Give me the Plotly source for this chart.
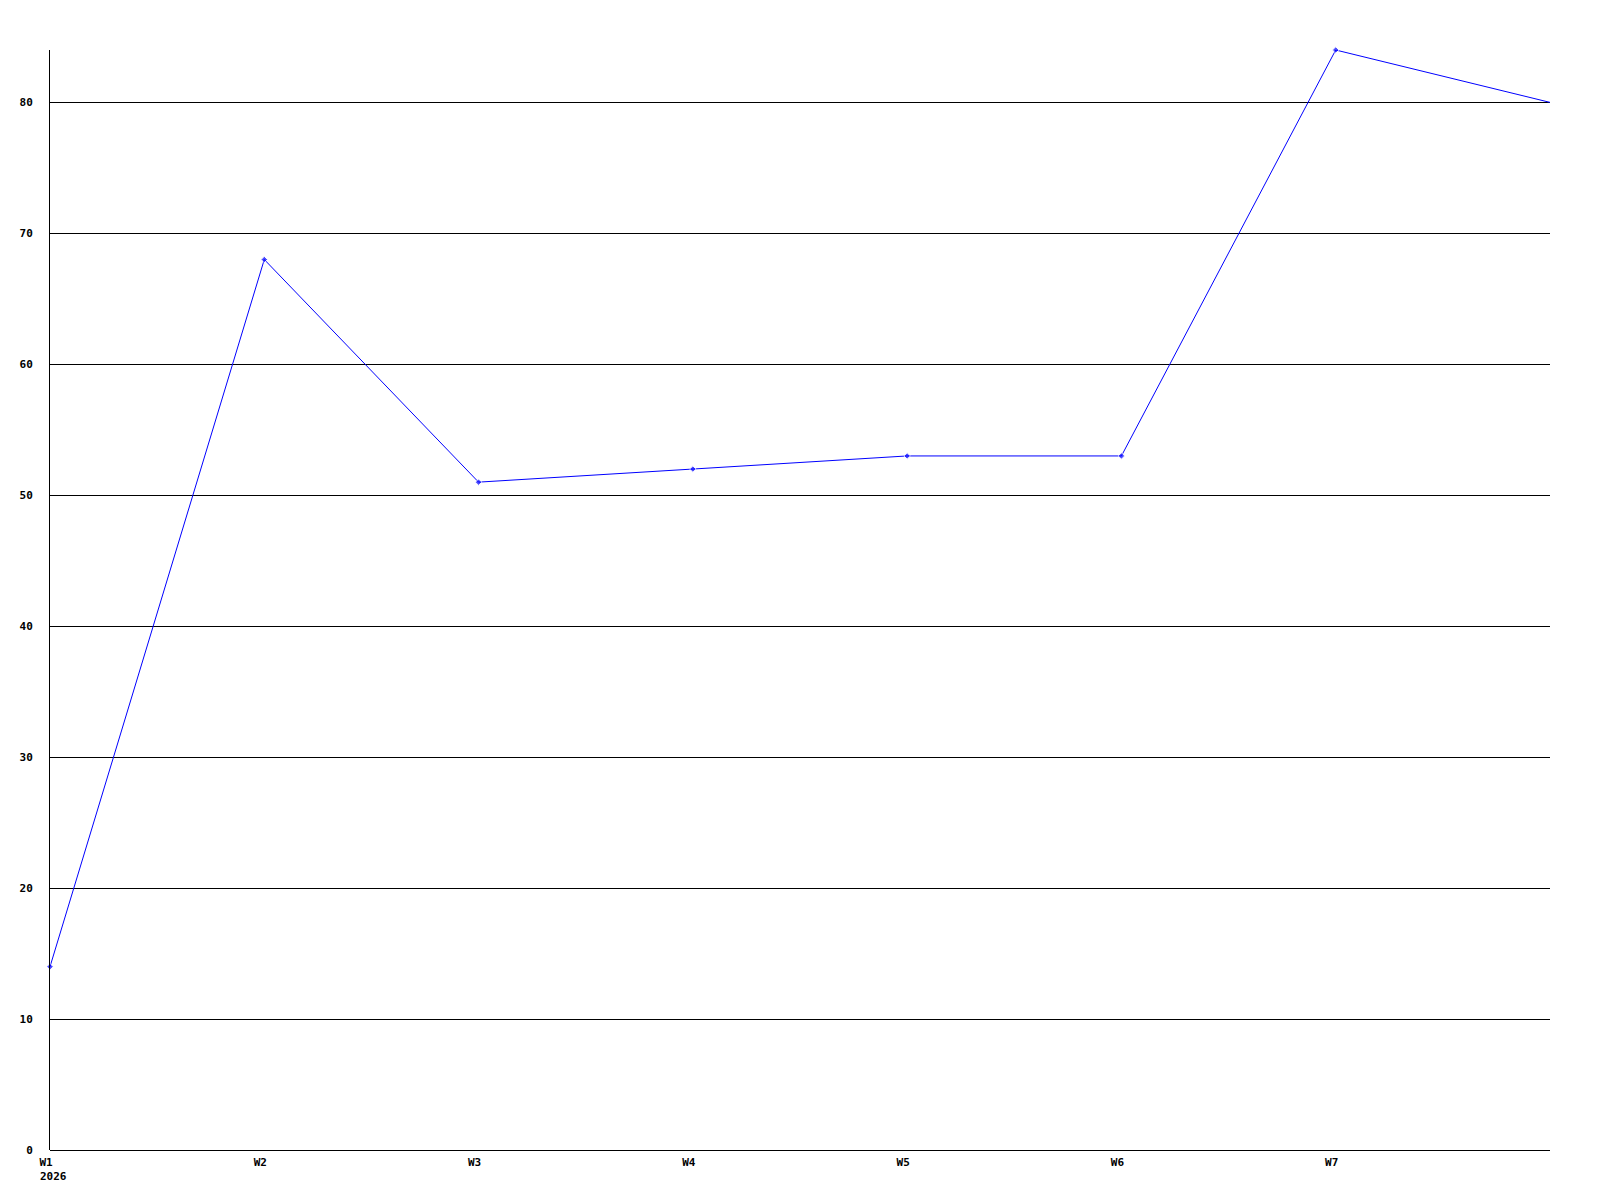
import plotly.graph_objs as go

weeks = ["W1", "W2", "W3", "W4", "W5", "W6", "W7", "W8"]
values = [14, 68, 51, 52, 53, 53, 84, 80]
tick_labels = ["W1", "W2", "W3", "W4", "W5", "W6", "W7"]
year_label = "2026"
y_ticks = [0, 10, 20, 30, 40, 50, 60, 70, 80]

tick_font = dict(family="DejaVu Sans Mono", size=11, color="black", weight="bold")

positions = list(range(len(weeks)))
marker_sizes = [5] * (len(weeks) - 1) + [0]

fig = go.Figure(data=[
    go.Scatter(x=positions, y=values, mode="lines+markers",
               line=dict(color="#0000ff", width=1),
               marker=dict(color="#0000ff", size=marker_sizes, symbol="diamond"),
               cliponaxis=False, showlegend=False)
])

# year sits under the first week label, left aligned with it
fig.add_annotation(text=year_label, x=positions[0], xref="x", y=0, yref="paper",
                   xanchor="left", yanchor="top", xshift=-12, yshift=-18,
                   showarrow=False, font=tick_font)

# the page body adds 8px, so the margins are trimmed to keep the axes where the reference has them
fig.update_layout(
    width=1600, height=1200,
    margin=dict(l=42, r=58, t=42, b=58),
    paper_bgcolor="white", plot_bgcolor="white",
    xaxis=dict(range=[0, len(weeks) - 1], tickvals=positions[:-1], ticktext=tick_labels,
               showgrid=False, zeroline=False, showline=False, ticks="",
               tickfont=tick_font, automargin=False, ticklabelstandoff=4,
               ticklabelshift=-4),
    yaxis=dict(range=[0, max(values)], tickvals=y_ticks, showgrid=True, gridcolor="black",
               gridwidth=1, zeroline=True, zerolinecolor="black", zerolinewidth=1,
               showline=True, linecolor="black", linewidth=1, ticks="",
               tickfont=tick_font, automargin=False, ticklabelstandoff=14),
)

fig.write_html("out.html")
